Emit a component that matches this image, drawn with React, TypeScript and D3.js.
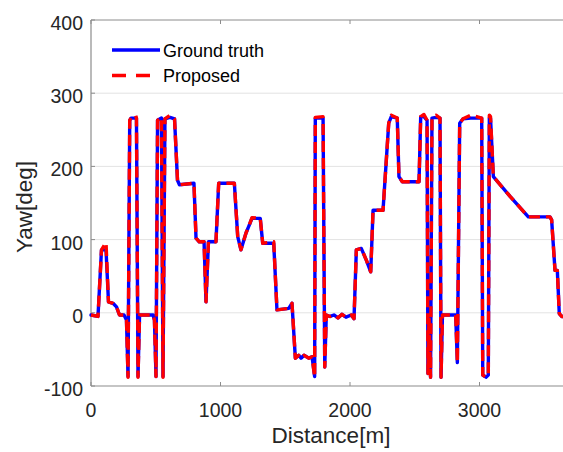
import React from "react";
import * as d3 from "d3";

const gtDist = [0,54,81,116,135,170,197,220,255,274,286,299,309,344,351,363,375,479,490,502,514,544,556,571,610,645,668,683,795,811,836,873,888,907,965,986,1107,1133,1158,1197,1218,1243,1307,1326,1411,1436,1527,1552,1578,1604,1622,1645,1681,1707,1727,1732,1792,1805,1817,1846,1876,1907,1938,1969,2010,2031,2049,2087,2126,2160,2178,2255,2299,2319,2365,2378,2404,2533,2546,2571,2595,2602,2610,2622,2633,2664,2695,2703,2714,2816,2829,2847,2873,2932,2978,3017,3025,3050,3068,3076,3085,3107,3236,3377,3544,3557,3583,3601,3616,3635,3645];
const gtYaw = [-3,-5,86,86,15,13,8,-3,-3,-10,-87,263,266,266,266,-87,-3,-3,-10,-87,263,266,-87,265,267,265,181,175,177,102,97,97,15,97,97,177,177,104,86,109,118,129,129,95,95,4,6,13,-62,-58,-62,-58,-62,-60,-87,266,266,-74,-3,-5,-3,-7,-2,-6,-3,-8,86,88,72,56,140,140,259,268,266,186,179,179,268,268,263,-83,-5,-88,266,267,266,-88,-3,-3,-68,259,265,266,266,266,-85,-88,-85,266,266,186,159,131,131,127,58,58,-1,-5,-5];

const propDist = [0,54,81,116,135,170,197,220,255,274,286,299,309,344,351,363,375,479,490,502,514,544,556,571,610,645,668,683,795,811,836,873,888,907,965,986,1107,1133,1158,1197,1218,1243,1307,1326,1411,1436,1527,1552,1578,1604,1622,1645,1681,1707,1727,1732,1792,1805,1817,1846,1876,1907,1938,1969,2010,2031,2049,2087,2126,2160,2178,2255,2299,2319,2365,2378,2404,2533,2546,2571,2595,2602,2610,2622,2633,2664,2695,2703,2714,2816,2829,2847,2873,2932,2978,3017,3025,3050,3068,3076,3085,3107,3236,3377,3544,3557,3583,3601,3616,3635,3645];
const propYaw = [-3,-5,86,96,15,13,8,-3,-3,-10,-88,263,266,270,266,-88,-3,-3,-10,-87,263,267,-88,265,270,265,181,175,177,102,97,97,15,97,97,177,177,104,86,109,118,130,129,95,97,4,6,13,-62,-58,-62,-58,-62,-60,-88,267,268,-74,-3,-5,-3,-7,-2,-6,-3,-8,86,88,72,56,140,140,259,270,266,186,179,179,268,271,263,-83,-5,-88,266,270,266,-88,-3,-3,-68,259,265,270,268,266,-85,-88,-85,270,268,186,159,131,131,127,58,58,-1,-5,-5];

const xTicks = [0, 1000, 2000, 3000];
const yTicks = [-100, 0, 100, 200, 300, 400];
const seriesNames = ["Ground truth", "Proposed"];

const W = 563, H = 452;
const left = 91, top = 20, bottom = 386;
const xMax = 3660;
const right = left + xMax * 0.1295;
const font = "'Liberation Sans', Arial, Helvetica, sans-serif";
const txt = "#262626";
const axisCol = "#8c8c8c";

export default function App() {
  const x = d3.scaleLinear().domain([0, xMax]).range([left, right]);
  const y = d3.scaleLinear().domain([-100, 400]).range([bottom, top]);
  const line = d3.line<[number, number]>().x(d => x(d[0])).y(d => y(d[1]));
  const gt = line(gtDist.map((d, i) => [d, gtYaw[i]] as [number, number])) || "";
  const pr = line(propDist.map((d, i) => [d, propYaw[i]] as [number, number])) || "";

  return (
    <svg width={W} height={H} style={{ position: "absolute", left: 0, top: 0, background: "#fff" }} fontFamily={font}>
      <rect x={0} y={0} width={W} height={H} fill="#fff" />
      {yTicks.filter(t => t > -100 && t < 400).map(t => (
        <line key={"g" + t} x1={left} x2={right} y1={y(t)} y2={y(t)} stroke="#e3e3e3" strokeWidth={1} />
      ))}
      <line x1={left} x2={right} y1={top} y2={top} stroke={axisCol} strokeWidth={1} />
      <line x1={left} x2={right} y1={bottom} y2={bottom} stroke={axisCol} strokeWidth={1.2} />
      <line x1={left} x2={left} y1={top} y2={bottom} stroke={axisCol} strokeWidth={1.2} />
      {xTicks.map(t => (
        <g key={"xt" + t}>
          <line x1={x(t)} x2={x(t)} y1={bottom} y2={bottom - 4} stroke={axisCol} />
          <line x1={x(t)} x2={x(t)} y1={top} y2={top + 4} stroke={axisCol} />
          <text x={x(t)} y={bottom + 31} textAnchor="middle" fontSize={19.5} fill={txt}>{t}</text>
        </g>
      ))}
      {yTicks.map(t => (
        <g key={"yt" + t}>
          <line x1={left} x2={left + 4} y1={y(t)} y2={y(t)} stroke={axisCol} />
          <text x={left - 8} y={y(t) + 10} textAnchor="end" fontSize={19.5} fill={txt}>{t}</text>
        </g>
      ))}
      <path d={gt} fill="none" stroke="#0000ff" strokeWidth={3.4} strokeLinejoin="round" strokeLinecap="round" />
      <path d={pr} fill="none" stroke="#ff0000" strokeWidth={3.4} strokeDasharray="11,6" strokeLinejoin="round" />
      <line x1={112} x2={160} y1={50} y2={50} stroke="#0000ff" strokeWidth={3.4} />
      <text x={163} y={57} fontSize={18} fill="#000">{seriesNames[0]}</text>
      <line x1={112} x2={160} y1={75.5} y2={75.5} stroke="#ff0000" strokeWidth={3.4} strokeDasharray="14,10" />
      <text x={163} y={82} fontSize={18} fill="#000">{seriesNames[1]}</text>
      <text x={331} y={443} textAnchor="middle" fontSize={22.5} fill={txt}>Distance[m]</text>
      <text transform={`translate(32,${(top + bottom) / 2 + 4}) rotate(-90)`} textAnchor="middle" fontSize={22.5} fill={txt}>Yaw[deg]</text>
    </svg>
  );
}
